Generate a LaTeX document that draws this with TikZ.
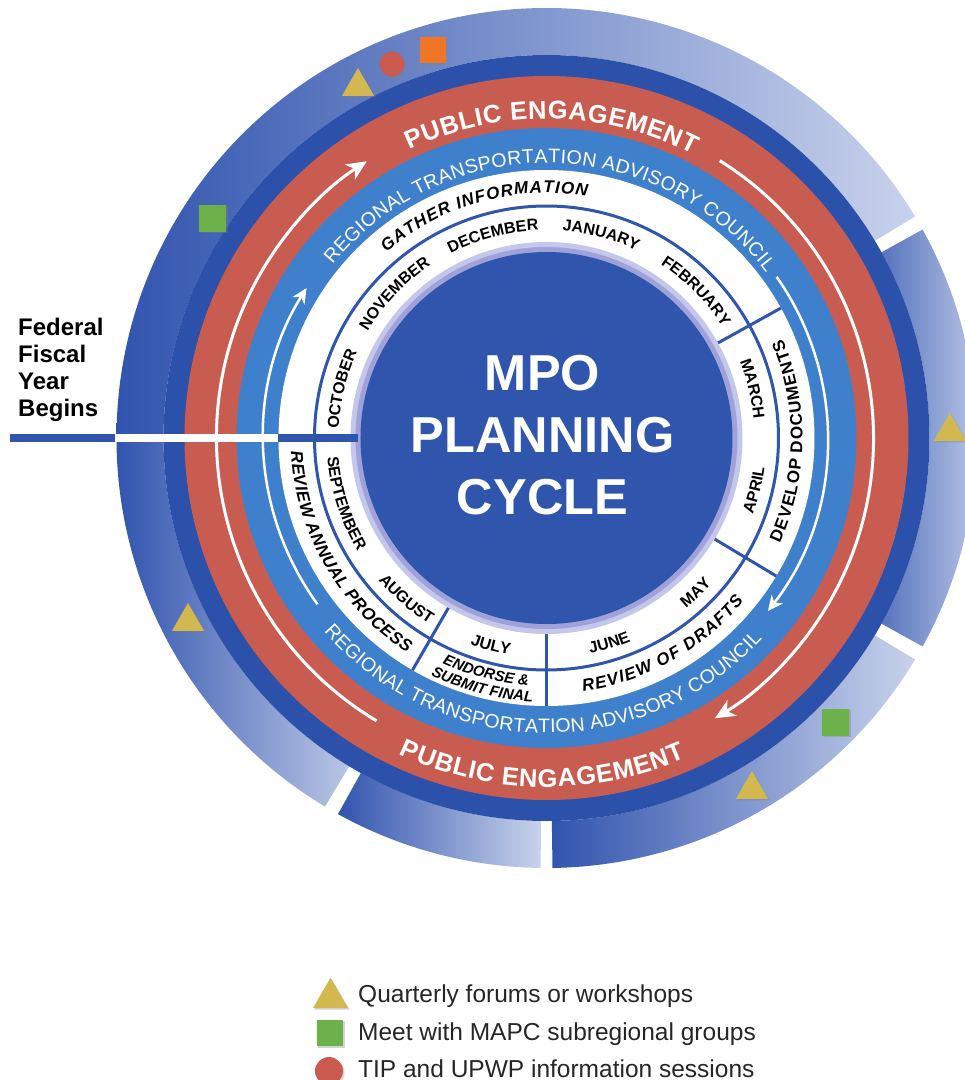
\documentclass[tikz,border=0pt]{standalone}
\usepackage{fontspec}
\setmainfont{Liberation Sans}
\usetikzlibrary{arrows.meta,decorations.text,shapes.geometric,shadows}

\definecolor{mpoblue}{HTML}{2F55AD}
\definecolor{ringblue}{HTML}{2C51AA}
\definecolor{rtacblue}{HTML}{3F80CC}
\definecolor{pubred}{HTML}{C95C51}
\definecolor{rimdark}{HTML}{9EA2D8}
\definecolor{rimlight}{HTML}{C5C6EC}
\definecolor{segdark}{HTML}{3154AE}
\definecolor{seglight}{HTML}{C8D2EB}
\definecolor{forumyellow}{HTML}{D3B84F}
\definecolor{mapcgreen}{HTML}{6DB14A}
\definecolor{sessionred}{HTML}{CB5A4E}
\definecolor{extraorange}{HTML}{EE7624}
\definecolor{legendgray}{HTML}{262626}

\newcommand{\monthfont}{\bfseries\fontsize{16}{16}\selectfont}
\newcommand{\phasefont}{\bfseries\itshape\fontsize{17}{17}\selectfont}
\newcommand{\phaseupfont}{\bfseries\fontsize{17}{17}\selectfont}
\newcommand{\submitfont}{\bfseries\itshape\fontsize{15}{15}\selectfont}
\newcommand{\rtacfont}{\color{white}\fontsize{19.5}{19.5}\selectfont}
\newcommand{\pubfont}{\color{white}\bfseries\fontsize{25.5}{25.5}\selectfont}

% one band of the outer ring, shaded left to right
\newcommand{\segment}[4]{%
	\shade[left color=#3, right color=#4] (#1:383) arc[start angle=#1, end angle=#2, radius=383]
		-- (#2:430) arc[start angle=#2, end angle=#1, radius=430] -- cycle;}

% text on the upper half (clockwise) and lower half (counter clockwise)
\newcommand{\toptext}[4]{%
	\path[decorate, decoration={text along path, text align=center, text={|#3|#4}}]
		({#1+45}:#2) arc[start angle=#1+45, end angle=#1-45, radius=#2];}
\newcommand{\bottomtext}[4]{%
	\path[decorate, decoration={text along path, text align=center, text={|#3|#4}}]
		({#1-45}:#2) arc[start angle=#1-45, end angle=#1+45, radius=#2];}
\newcommand{\fittext}[5]{%
	\path[decorate, decoration={text along path, text align=fit to path, text={|#4|#5}}]
		(#1:#3) arc[start angle=#1, end angle=#2, radius=#3];}

\tikzset{
	divider/.style={mpoblue, line width=3pt},
	fiscalline/.style={line width=7.5pt},
	cyclearrow/.style={white, line width=3pt, -{Stealth[length=20pt, width=18pt, inset=6pt]}},
	innerarrow/.style={white, line width=2.5pt, -{Stealth[length=15pt, width=14pt, inset=4.5pt]}},
	marker/.style={inner sep=0pt, drop shadow={shadow xshift=1.5pt, shadow yshift=-1.5pt, opacity=.35}},
	forum/.style={marker, regular polygon, regular polygon sides=3, fill=forumyellow, minimum size=37pt},
	mapc/.style={marker, rectangle, fill=mapcgreen, minimum size=27pt},
	session/.style={marker, circle, fill=sessionred, minimum size=25pt},
	extra/.style={marker, rectangle, fill=extraorange, minimum size=26pt},
	keytext/.style={anchor=base west, inner sep=0pt, text=legendgray, font=\fontsize{24.5}{24.5}\selectfont},
}

\begin{document}
\begin{tikzpicture}[x=1pt, y=1pt]
	\useasboundingbox (-546.5,-642) rectangle (418.5,438);

	% outer ring
	\segment{31}{180}{segdark}{seglight}
	\segment{180}{239}{segdark}{seglight!90!segdark}
	\segment{241}{269.2}{segdark}{seglight}
	\segment{270.8}{329}{segdark}{seglight}
	\segment{331}{389}{segdark!75!seglight}{seglight}

	\fill[ringblue] (0,0) circle[radius=383];
	\fill[pubred] (0,0) circle[radius=362];
	\fill[rtacblue] (0,0) circle[radius=310];
	\fill[white] (0,0) circle[radius=268];
	\draw[divider] (0,0) circle[radius=232];
	\foreach \a in {29,-31,-90,-120}
		\draw[divider] (\a:196) -- (\a:268);
	\fill[rimlight] (0,0) circle[radius=196];
	\fill[rimdark] (0,0) circle[radius=191];
	\fill[mpoblue] (0,0) circle[radius=186];

	% fiscal year line
	\draw[fiscalline, mpoblue] (-536.5,0) -- (-431,0);
	\draw[fiscalline, white] (-431,0) -- (-268,0);
	\draw[fiscalline, mpoblue] (-268,0) -- (-188,0);

	\draw[cyclearrow] (239:330) arc[start angle=239, end angle=123, radius=330];
	\draw[cyclearrow] (58:327) arc[start angle=58, end angle=-59, radius=327];
	\draw[innerarrow] (216:283) arc[start angle=216, end angle=148, radius=283];
	\draw[innerarrow] (35:281) arc[start angle=35, end angle=-38, radius=281];

	% months
	\toptext{166.5}{208}{\monthfont}{OCTOBER}
	\toptext{136.5}{208}{\monthfont}{NOVEMBER}
	\toptext{104.8}{208}{\monthfont}{DECEMBER}
	\toptext{75}{208}{\monthfont}{JANUARY}
	\toptext{44.5}{208}{\monthfont}{FEBRUARY}
	\toptext{13.4}{208}{\monthfont}{MARCH}
	\bottomtext{-14}{220}{\monthfont}{APRIL}
	\bottomtext{-46}{220}{\monthfont}{MAY}
	\bottomtext{-73}{220}{\monthfont}{JUNE}
	\bottomtext{-105}{220}{\monthfont}{JULY}
	\bottomtext{-131}{220}{\monthfont}{AUGUST}
	\bottomtext{-162}{220}{\monthfont}{SEPTEMBER}

	% phases
	\fittext{130.8}{80.5}{245}{\phasefont}{GATHER INFORMATION}
	\fittext{-24.3}{22.8}{256}{\phaseupfont}{DEVELOP DOCUMENTS}
	\fittext{-81.8}{-39.6}{256}{\phasefont}{REVIEW OF DRAFTS}
	\bottomtext{-104.5}{248}{\submitfont}{ENDORSE {\&}}
	\bottomtext{-104.5}{264}{\submitfont}{SUBMIT FINAL}
	\fittext{183}{237}{256}{\phasefont}{REVIEW ANNUAL PROCESS}

	\fittext{141}{37}{275}{\rtacfont}{REGIONAL TRANSPORTATION ADVISORY COUNCIL}
	\fittext{-139}{-43}{295}{\rtacfont}{REGIONAL TRANSPORTATION ADVISORY COUNCIL}
	\fittext{115.5}{62.6}{319}{\pubfont}{PUBLIC ENGAGEMENT}
	\fittext{-115}{-66.5}{349}{\pubfont}{PUBLIC ENGAGEMENT}

	\node[font=\bfseries\fontsize{50.5}{62}\selectfont, text=white, align=center, inner sep=0pt] (title) at (-4,3) {MPO\\PLANNING\\CYCLE};
	\node[font=\bfseries\fontsize{24}{27.3}\selectfont, align=left, anchor=north west, inner sep=0pt] (fiscal) at (-528.5,120.5) {Federal\\Fiscal\\Year\\Begins};

	% events on the outer ring
	\node[forum] (forumnorth) at (-188.5,351.5) {};
	\node[session] (sessionnorth) at (-154.5,374) {};
	\node[extra] (extranorth) at (-113.5,388) {};
	\node[mapc] (mapcwest) at (-333.5,220) {};
	\node[forum] (forumeast) at (403.5,6.5) {};
	\node[forum] (forumwest) at (-358.5,-183.5) {};
	\node[mapc] (mapcsouth) at (289.5,-284) {};
	\node[forum] (forumsouth) at (205.5,-351.5) {};

	% legend
	\node[forum, minimum size=40.5pt] (keyforum) at (-216,-560) {};
	\node[mapc, minimum size=26.5pt] (keymapc) at (-216.5,-595) {};
	\node[session, minimum size=28pt] (keysession) at (-217.5,-633) {};
	\node[keytext] (keyforumtext) at (-188.5,-564) {Quarterly forums or workshops};
	\node[keytext] (keymapctext) at (-188.5,-602) {Meet with MAPC subregional groups};
	\node[keytext] (keysessiontext) at (-188.5,-639) {TIP and UPWP information sessions};
\end{tikzpicture}
\end{document}
